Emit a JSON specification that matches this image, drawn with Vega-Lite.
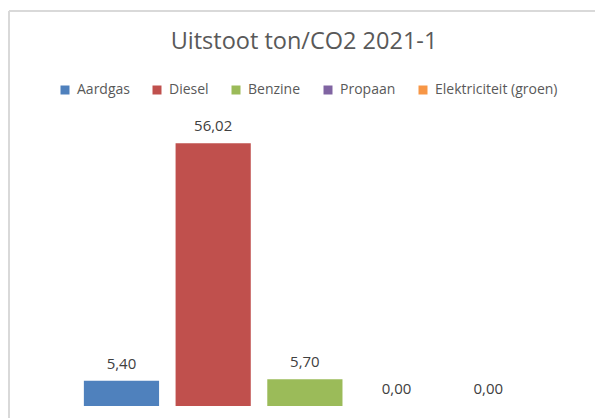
{
  "$schema": "https://vega.github.io/schema/vega-lite/v6.json",
  "width": 586,
  "height": 407,
  "autosize": {"type": "none"},
  "padding": {"left": 9, "top": 11, "right": 0, "bottom": 0},
  "background": "white",
  "title": {
    "text": "Uitstoot ton/CO2 2021-1",
    "anchor": "middle",
    "baseline": "alphabetic",
    "offset": -61,
    "dx": 2,
    "font": "Open Sans",
    "fontSize": 23.5,
    "fontWeight": "normal",
    "color": "#595959"
  },
  "data": {
    "values": [
      {"cat": "Aardgas", "val": 5.40},
      {"cat": "Diesel", "val": 56.02},
      {"cat": "Benzine", "val": 5.70},
      {"cat": "Propaan", "val": 0.00},
      {"cat": "Elektriciteit (groen)", "val": 0.00}
    ]
  },
  "encoding": {
    "x": {
      "field": "cat",
      "type": "nominal",
      "sort": null,
      "scale": {
        "domain": ["Aardgas", "Diesel", "Benzine", "Propaan", "Elektriciteit (groen)"],
        "paddingInner": 0.18,
        "paddingOuter": 0.785,
        "align": 0.52
      },
      "axis": {
        "orient": "top",
        "labels": false,
        "ticks": false,
        "grid": false,
        "title": null,
        "domain": true,
        "domainColor": "#d9d9d9",
        "domainWidth": 2,
        "translate": 0
      }
    },
    "y": {
      "field": "val",
      "type": "quantitative",
      "scale": {"domain": [-2.56, 84.2], "nice": false, "zero": false},
      "axis": {
        "orient": "left",
        "labels": false,
        "ticks": false,
        "grid": false,
        "title": null,
        "domain": true,
        "domainColor": "#d9d9d9",
        "domainWidth": 2,
        "translate": 0
      }
    }
  },
  "layer": [
    {
      "mark": {"type": "bar"},
      "encoding": {
        "color": {
          "field": "cat",
          "type": "nominal",
          "sort": null,
          "scale": {
            "domain": ["Aardgas", "Diesel", "Benzine", "Propaan", "Elektriciteit (groen)"],
            "range": ["#4F81BD", "#C0504D", "#9BBB59", "#8064A2", "#F79646"]
          },
          "legend": {
            "orient": "none",
            "direction": "horizontal",
            "legendX": 49,
            "legendY": 72,
            "title": null,
            "padding": 0,
            "symbolType": "square",
            "symbolSize": 81,
            "symbolStrokeWidth": 0,
            "symbolOpacity": 1,
            "labelFont": "Open Sans",
            "labelFontSize": 14,
            "labelColor": "#595959",
            "labelOffset": 5,
            "columnPadding": 20
          }
        }
      }
    },
    {
      "mark": {
        "type": "text",
        "baseline": "middle",
        "dy": -17,
        "font": "Open Sans",
        "fontSize": 15,
        "color": "#404040"
      },
      "encoding": {
        "text": {"field": "val", "type": "quantitative", "format": ".2f"}
      }
    }
  ],
  "config": {
    "view": {"stroke": null},
    "locale": {
      "number": {
        "decimal": ",",
        "thousands": ".",
        "grouping": [3],
        "currency": ["€ ", ""]
      }
    }
  }
}
